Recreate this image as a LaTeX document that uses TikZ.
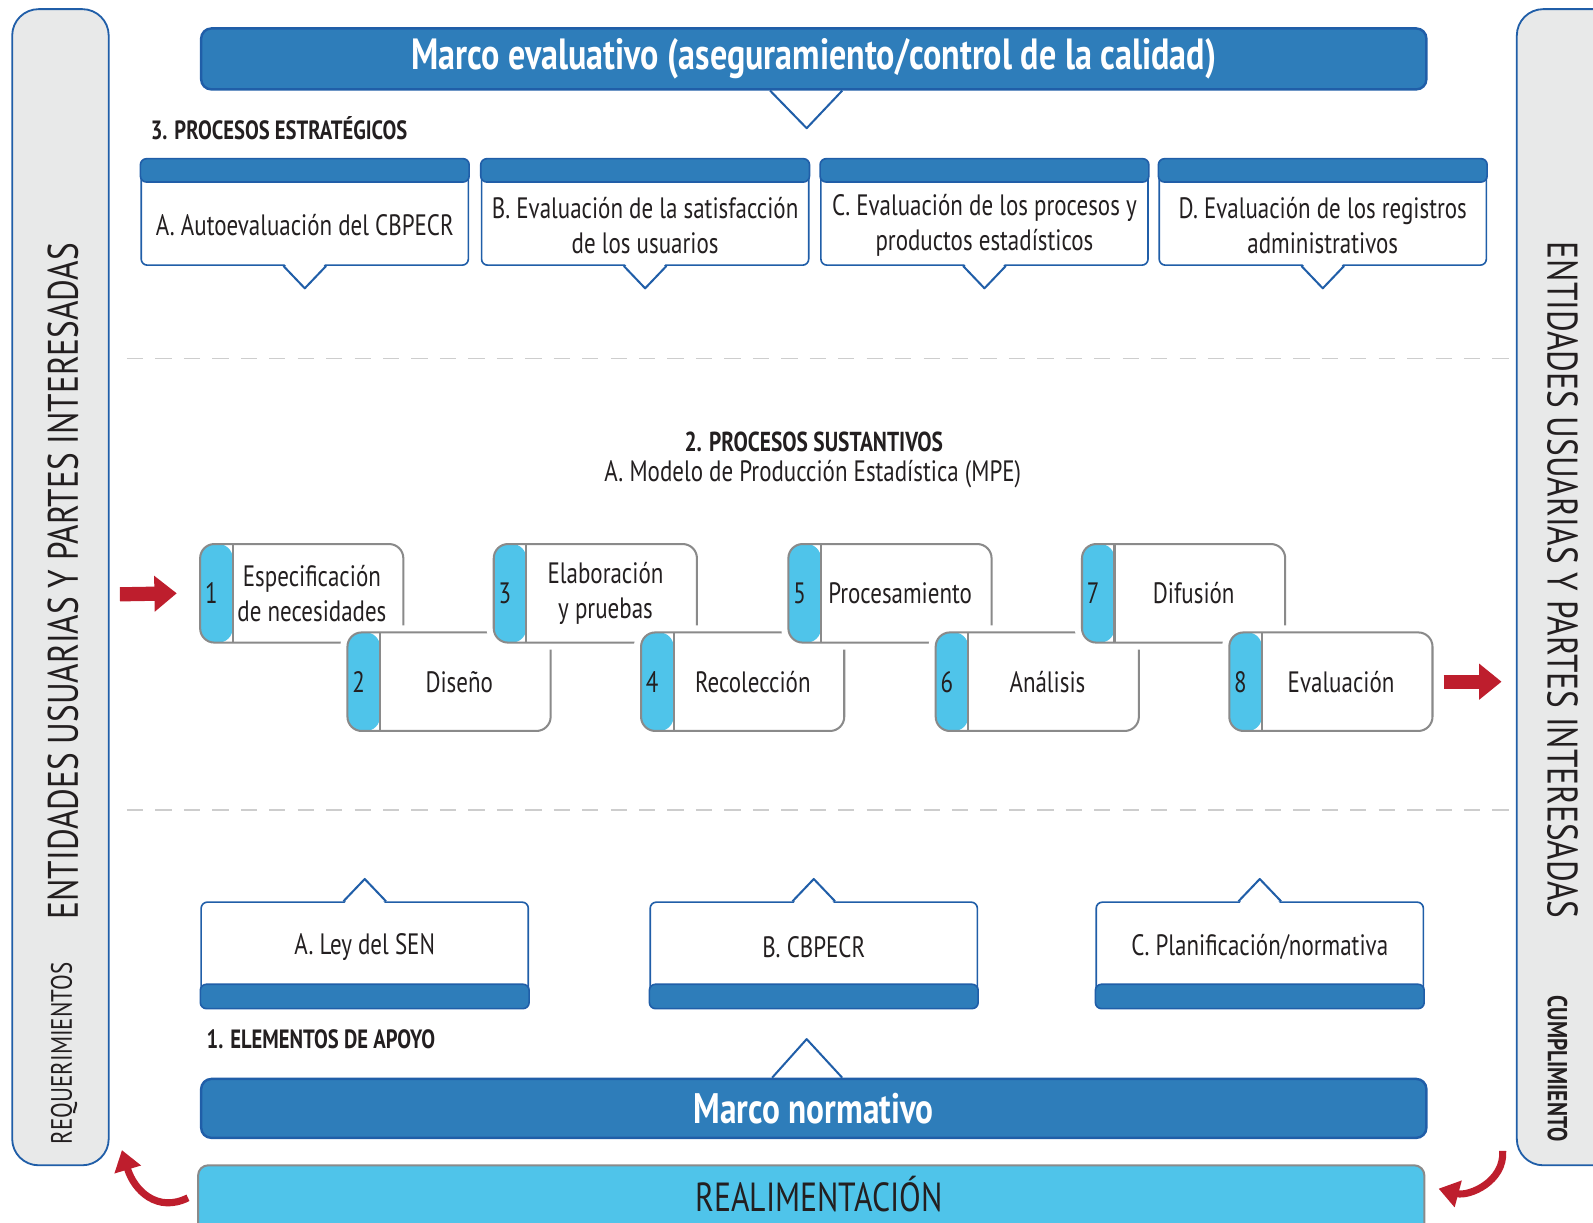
\documentclass[tikz,border=0pt]{standalone}
\usepackage{fontspec}
\setmainfont{PT Sans}[FakeStretch=0.78]
\usetikzlibrary{arrows.meta,calc,positioning}

\definecolor{azul}{RGB}{46,125,186}
\definecolor{azulborde}{RGB}{32,94,168}
\definecolor{celeste}{RGB}{79,196,234}
\definecolor{grispanel}{RGB}{232,233,233}
\definecolor{grisborde}{RGB}{138,138,138}
\definecolor{grislinea}{RGB}{205,205,205}
\definecolor{rojo}{RGB}{190,30,45}
\definecolor{tinta}{RGB}{35,31,32}

\tikzset{every picture/.style={line width=0.75pt}}
\tikzset{
  panel/.style={draw=azulborde, fill=grispanel, line width=0.9pt, rounded corners=13pt, minimum height=569pt},
  paneltxt/.style={text=tinta, font=\fontsize{21}{24}\selectfont},
  panelsub/.style={text=tinta, font=\fontsize{14.5}{16}\selectfont},
  barra/.style={draw=azulborde, fill=azul, line width=1.2pt, rounded corners=5pt, minimum width=603pt, text=white},
  punta/.style={draw=azulborde, line width=1pt, line join=round},
  titulo/.style={text=tinta, font=\bfseries\fontsize{13}{15}\selectfont},
  caja/.style={draw=azulborde, fill=white, line width=0.8pt, rounded corners=3pt, minimum width=161pt, minimum height=52pt},
  cabecera/.style={draw=azulborde, fill=azul, line width=0.8pt, rounded corners=3pt},
  cajatxt/.style={text=tinta, align=center, font=\fontsize{14.5}{17.5}\selectfont},
  proceso/.style={draw=grisborde, fill=white, line width=1pt, rounded corners=7pt, minimum width=100pt, minimum height=48.5pt,
    preaction={draw=white, line width=7pt},
    path picture={\fill[celeste] (path picture bounding box.south west) rectangle ([xshift=16pt]path picture bounding box.north west);
      \draw[grisborde, line width=1pt] ([xshift=16pt]path picture bounding box.south west) -- ([xshift=16pt]path picture bounding box.north west);}},
  proctxt/.style={text=tinta, align=center, font=\fontsize{14.5}{17}\selectfont},
  flecha/.style={draw=rojo, line width=7pt, -{Triangle[length=11pt,width=17pt]}},
  curva/.style={draw=rojo, line width=3.5pt, -{Triangle[length=10pt,width=13pt]}},
  divisoria/.style={draw=grislinea, line width=0.8pt, dash pattern=on 8pt off 6pt},
}

\begin{document}
\begin{tikzpicture}[x=0.5pt,y=0.5pt,yscale=-1]
  \useasboundingbox (0,0) rectangle (1568,1203);
  \clip (0,0) rectangle (1568,1203);

  % paneles de entidades
  \node[panel, minimum width=47.5pt] (entIzq) at (59.5,578) {};
  \node[panel, minimum width=60pt] (entDer) at (1553,578) {};
  \node[paneltxt, rotate=90] (entIzq-t) at (62,572) {ENTIDADES USUARIAS Y PARTES INTERESADAS};
  \node[panelsub, rotate=90] (reqs) at (63,1037) {REQUERIMIENTOS};
  \node[paneltxt, rotate=-90] (entDer-t) at (1538,571) {ENTIDADES USUARIAS Y PARTES INTERESADAS};
  \node[panelsub, rotate=-90, font=\bfseries\fontsize{13.5}{16}\selectfont] (cumpl) at (1533,1052) {CUMPLIMIENTO};

  % marco evaluativo
  \node[barra, minimum height=30pt, font=\bfseries\fontsize{21.5}{24}\selectfont] (evaluativo) at (801,58) {Marco evaluativo (aseguramiento/control de la calidad)};
  \draw[punta] ($(evaluativo.south)+(-43,0)$) -- ($(evaluativo.south)+(-7,37)$) -- ($(evaluativo.south)+(28,0)$);

  % 3. procesos estrategicos
  \node[titulo, anchor=west] (estrategicos) at (141,126) {3. PROCESOS ESTRATÉGICOS};
  \foreach \id/\x/\txt in {A/300/{A. Autoevaluación del CBPECR},
                           B/635/{B. Evaluación de la satisfacción\\de los usuarios},
                           C/969/{C. Evaluación de los procesos y\\productos estadísticos},
                           D/1302/{D. Evaluación de los registros\\administrativos}}{
    \node[caja] (est\id) at (\x,209) {};
    \draw[cabecera] (est\id.north west) rectangle ($(est\id.north east)+(0,23)$);
    \fill[white] ($(est\id.south)+(-20,-2)$) -- ($(est\id.south)+(0,22)$) -- ($(est\id.south)+(20,-2)$) -- cycle;
    \draw[punta] ($(est\id.south)+(-21,0)$) -- ($(est\id.south)+(0,22)$) -- ($(est\id.south)+(21,0)$);
    \node[cajatxt] (est\id-t) at (\x,222) {\txt};
  }

  % divisorias
  \coordinate (div1a) at (125,353);
  \coordinate (div1b) at (1487,353);
  \coordinate (div2a) at (125,797);
  \coordinate (div2b) at (1487,797);
  \draw[divisoria] (div1a) -- (div1b);
  \draw[divisoria] (div2a) -- (div2b);

  % 2. procesos sustantivos
  \node[titulo, font=\bfseries\fontsize{13.5}{15}\selectfont] (sustantivos) at (801,435) {2. PROCESOS SUSTANTIVOS};
  \node[text=tinta, font=\fontsize{14.5}{17}\selectfont] (mpe) at (800,467) {A. Modelo de Producción Estadística (MPE)};
  \foreach \n/\px/\py/\txt in {1/297/584/{Especificación\\de necesidades}, 2/442/671/Diseño,
                               3/586/584/{Elaboración\\y pruebas}, 4/731/671/Recolección,
                               5/876/584/Procesamiento, 6/1021/671/Análisis,
                               7/1165/584/Difusión, 8/1310/671/Evaluación}{
    \node[proceso] (p\n) at (\px,\py) {};
    \node[proctxt] (p\n-num) at ($(p\n.west)+(12,0)$) {\n};
    \node[proctxt] (p\n-t) at ($(p\n.center)+(10,0)$) {\txt};
  }
  \coordinate (entrada) at (118,585);
  \coordinate (salida) at (1478,671);
  \draw[flecha] (entrada) -- ($(p1.west)+(-22,0)$);
  \draw[flecha] ($(p8.east)+(10,0)$) -- (salida);

  % 1. elementos de apoyo
  \foreach \id/\x/\txt in {A/359/{A. Ley del SEN}, B/801/{B. CBPECR}, C/1240/{C. Planificación/normativa}}{
    \node[caja] (apo\id) at (\x,940) {};
    \draw[cabecera] ($(apo\id.south west)+(0,-24)$) rectangle (apo\id.south east);
    \fill[white] ($(apo\id.north)+(-20,2)$) -- ($(apo\id.north)+(0,-22)$) -- ($(apo\id.north)+(20,2)$) -- cycle;
    \draw[punta] ($(apo\id.north)+(-21,0)$) -- ($(apo\id.north)+(0,-22)$) -- ($(apo\id.north)+(21,0)$);
    \node[cajatxt] (apo\id-t) at (\x,932) {\txt};
  }
  \node[titulo, anchor=west] (apoyo) at (196,1023) {1. ELEMENTOS DE APOYO};

  % marco normativo
  \node[barra, minimum height=29pt, font=\bfseries\fontsize{21}{24}\selectfont] (normativo) at (801,1091) {Marco normativo};
  \draw[punta] ($(normativo.north)+(-41,0)$) -- ($(normativo.north)+(-7,-38)$) -- ($(normativo.north)+(28,0)$);

  % realimentacion
  \node[draw=grisborde, fill=celeste, line width=1pt, rounded corners=5pt, minimum width=603.5pt, minimum height=50pt] (realim) at (798.5,1197) {};
  \node[text=tinta, font=\fontsize{20}{24}\selectfont] (realim-t) at (806,1175) {REALIMENTACIÓN};
  \coordinate (retIzq) at (120,1132);
  \coordinate (retDer) at (1416,1170);
  \draw[curva] ($(realim.north west)+(-9,33)$) .. controls +(-30,15) and +(12,40) .. (retIzq);
  \draw[curva] ($(entDer.south west)+(-13,-15)$) .. controls +(2,30) and +(30,8) .. (retDer);
\end{tikzpicture}
\end{document}
